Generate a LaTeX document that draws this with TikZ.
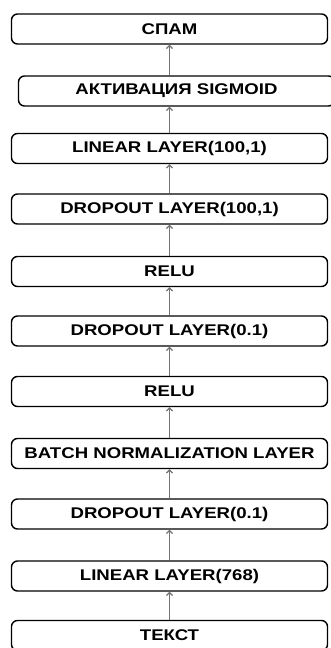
\documentclass[tikz,border=0pt]{standalone}
\usepackage{fontspec}
\newfontfamily\boxfont{Liberation Sans}[FakeStretch=1.2]
\usetikzlibrary{arrows.meta}
\begin{document}
\begin{tikzpicture}[x=1pt,y=-1pt,
  box/.style={draw=black, line width=1.4pt, rounded corners=6pt, minimum width=316pt, minimum height=30pt, inner sep=0pt, font=\boxfont\bfseries\fontsize{15.5}{18}\selectfont},
  arr/.style={draw=black!55, line width=1.2pt, -{Straight Barb[length=3pt,width=6pt]}}]
\useasboundingbox (0,0) rectangle (331,648);
\clip (0,0) rectangle (331,648);
\node[box] (b1) at (169.5,29) {СПАМ};
\node[box] (b2) at (176.5,91) {АКТИВАЦИЯ SIGMOID};
\node[box] (b3) at (169.5,148.5) {LINEAR LAYER(100,1)};
\node[box] (b4) at (169.5,209) {DROPOUT LAYER(100,1)};
\node[box] (b5) at (169.5,271.5) {RELU};
\node[box] (b6) at (169.5,331) {DROPOUT LAYER(0.1)};
\node[box] (b7) at (169.5,391.5) {RELU};
\node[box] (b8) at (169.5,453.5) {BATCH NORMALIZATION LAYER};
\node[box] (b9) at (169.5,514) {DROPOUT LAYER(0.1)};
\node[box] (b10) at (169.5,576) {LINEAR LAYER(768)};
\node[box] (b11) at (169.5,635.5) {ТЕКСТ};
\draw[arr] (b11.north) -- (b10.south);
\draw[arr] (b10.north) -- (b9.south);
\draw[arr] (b9.north) -- (b8.south);
\draw[arr] (b8.north) -- (b7.south);
\draw[arr] (b7.north) -- (b6.south);
\draw[arr] (b6.north) -- (b5.south);
\draw[arr] (b5.north) -- (b4.south);
\draw[arr] (b4.north) -- (b3.south);
\draw[arr] (b3.north) -- (b3.north |- b2.south);
\draw[arr] (b3.north |- b2.north) -- (b1.south);
\end{tikzpicture}
\end{document}
